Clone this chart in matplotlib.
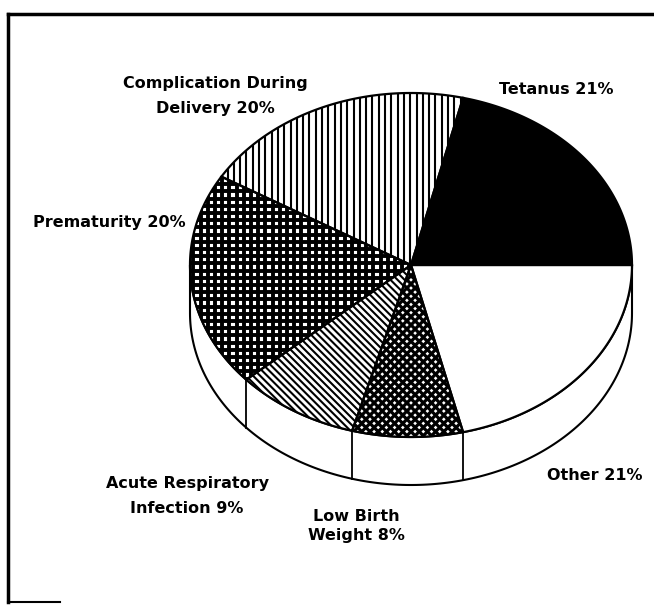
import numpy as np
import matplotlib.pyplot as plt
from matplotlib.patches import Polygon
from matplotlib.collections import LineCollection

# data
labels = ['Tetanus 21%', 'Complication During\nDelivery 20%', 'Prematurity 20%',
          'Acute Respiratory\nInfection 9%', 'Low Birth\nWeight 8%', 'Other 21%']
values = [21, 20, 20, 9, 8, 21]

# styles: hatch = list of line angles (deg), spacing in px, line width in pt
fills = ['black', 'white', 'white', 'white', 'white', 'white']
hatch_angles = [[], [90], [0, 90], [-45], [45, -45], []]
hatch_gap = [0, 6.3, 7.2, 5.0, 5.8, 0]
hatch_lw = [0, 1.5, 2.8, 1.5, 2.3, 0]

# label layout (pixel coords, y down)
label_pos = [(556, 90), (215, 96), (109, 223), (187, 496), (356, 526), (595, 476)]
label_ls = [1.0, 1.9, 1.0, 1.9, 1.3, 1.0]

dpi = 100
fig = plt.figure(dpi=dpi, figsize=(654 / dpi, 605 / dpi))
ax = fig.add_axes([0, 0, 1, 1])
ax.set_xlim(0, 654)
ax.set_ylim(605, 0)
ax.axis('off')

cx, cy = 411, 265
rx, ry = 221, 172
depth = 48

bounds = np.concatenate([[0], np.cumsum(values)]) / sum(values) * 360


def arc(t0, t1, dy=0, n=200):
    t = np.radians(np.linspace(t0, t1, n))
    return np.column_stack([cx + rx * np.cos(t), cy - ry * np.sin(t) + dy])


def hatch_segments(angle, gap, size=700):
    # parallel lines across the whole canvas, angle measured on screen (y down)
    a = np.radians(angle)
    d = np.array([np.cos(a), -np.sin(a)])
    nrm = np.array([-d[1], d[0]])
    c = np.array([cx, cy])
    segs = []
    for k in np.arange(-size, size, gap):
        p = c + nrm * k
        segs.append([p - d * size, p + d * size])
    return segs


# side wall (front half)
top = arc(180, 360)
bottom = arc(360, 180, depth)
ax.add_patch(Polygon(np.vstack([top, bottom]), closed=True,
                     facecolor='white', edgecolor='black', lw=1.5))
for b in bounds:
    if 180 < b < 360:
        t = np.radians(b)
        x = cx + rx * np.cos(t)
        y = cy - ry * np.sin(t)
        ax.plot([x, x], [y, y + depth], color='black', lw=1.3)

# top surface
for i in range(len(values)):
    pts = np.vstack([[cx, cy], arc(bounds[i], bounds[i + 1])])
    p = Polygon(pts, closed=True, facecolor=fills[i], edgecolor='none')
    ax.add_patch(p)
    for ang in hatch_angles[i]:
        lc = LineCollection(hatch_segments(ang, hatch_gap[i]), colors='black',
                            linewidths=hatch_lw[i])
        ax.add_collection(lc)
        lc.set_clip_path(p)
    ax.add_patch(Polygon(pts, closed=True, facecolor='none', edgecolor='black',
                         lw=1.6, zorder=3))

for i in range(len(labels)):
    ax.text(label_pos[i][0], label_pos[i][1], labels[i], ha='center', va='center',
            fontsize=11.5, fontweight='bold', family='DejaVu Sans',
            linespacing=label_ls[i])

# frame
ax.plot([8, 8], [14, 602], color='black', lw=2.5)
ax.plot([8, 654], [14, 14], color='black', lw=2.5)
ax.plot([8, 60], [602, 602], color='black', lw=1.5)

fig.savefig('out.png', dpi=dpi)
